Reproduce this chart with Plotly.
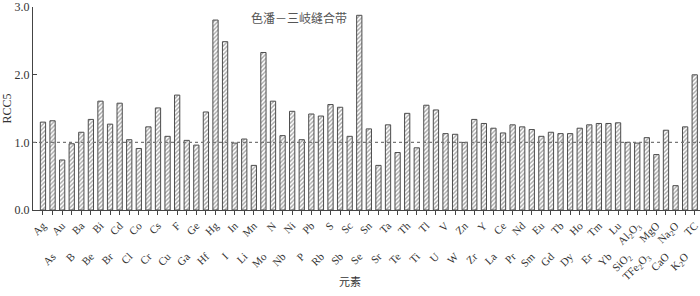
import plotly.graph_objects as go

elements = ["Ag", "As", "Au", "B", "Ba", "Be", "Bi", "Br", "Cd", "Cl", "Co", "Cr", "Cs", "Cu",
            "F", "Ga", "Ge", "Hf", "Hg", "I", "In", "Li", "Mn", "Mo", "N", "Nb", "Ni", "P",
            "Pb", "Rb", "S", "Sb", "Sc", "Se", "Sn", "Sr", "Ta", "Te", "Th", "Ti", "Tl", "U",
            "V", "W", "Zn", "Zr", "Y", "La", "Ce", "Pr", "Nd", "Sm", "Eu", "Gd", "Tb", "Dy",
            "Ho", "Er", "Tm", "Yb", "Lu", "SiO<sub>2</sub>", "Al<sub>2</sub>O<sub>3</sub>",
            "TFe<sub>2</sub>O<sub>3</sub>", "MgO", "CaO", "Na<sub>2</sub>O", "K<sub>2</sub>O", "TC"]

rcc5 = [1.30, 1.32, 0.74, 0.98, 1.15, 1.34, 1.61, 1.27, 1.58, 1.04, 0.91, 1.23, 1.51, 1.09,
        1.70, 1.03, 0.96, 1.45, 2.81, 2.49, 0.99, 1.05, 0.66, 2.33, 1.61, 1.10, 1.46, 1.04,
        1.42, 1.39, 1.56, 1.52, 1.09, 2.88, 1.20, 0.66, 1.26, 0.85, 1.43, 0.92, 1.55, 1.48,
        1.13, 1.12, 1.00, 1.34, 1.28, 1.21, 1.14, 1.26, 1.23, 1.19, 1.09, 1.15, 1.13, 1.13,
        1.21, 1.26, 1.28, 1.28, 1.29, 1.00, 0.99, 1.07, 0.82, 1.18, 0.36, 1.23, 2.00]

y_ticks = [0.0, 1.0, 2.0, 3.0]
y_tick_labels = ["0.0", "1.0", "2.0", "3.0"]
reference_level = 1.0

idx = list(range(len(elements)))
bot_vals = [i for i in idx if i % 2 == 1]

axis_color = "#444444"
serif = "Liberation Serif"

fig = go.Figure()
fig.add_trace(go.Bar(
    x=idx, y=rcc5, width=0.55,
    marker=dict(color="white",
                line=dict(color="#4d4d4d", width=1),
                pattern=dict(shape="/", size=3, solidity=0.45,
                             fgcolor="#4d4d4d", bgcolor="white")),
    showlegend=False,
))
# invisible helper trace for the second label row
fig.add_trace(go.Scatter(x=idx, y=rcc5, xaxis="x2", mode="markers",
                         marker=dict(opacity=0), showlegend=False, hoverinfo="skip"))

fig.add_shape(type="line", xref="paper", x0=0, x1=1, yref="y",
              y0=reference_level, y1=reference_level,
              line=dict(color="#777777", width=1.2, dash="dot"))

xrange = [-1.04, 68.55]
plot_h = 296 - 7 - 86
fig.update_layout(
    width=700, height=296,
    margin=dict(l=33, r=0, t=7, b=86, autoexpand=False),
    plot_bgcolor="white", paper_bgcolor="white",
    xaxis=dict(range=xrange, tickmode="array", tickvals=idx,
               ticktext=[elements[i] if i % 2 == 0 else "" for i in idx],
               tickangle=-45, ticks="outside", ticklen=4, tickcolor=axis_color,
               showline=True, linecolor=axis_color, linewidth=1,
               showgrid=False, zeroline=False, automargin=False,
               ticklabeloverflow="allow",
               tickfont=dict(family=serif, size=11, color="#333333")),
    xaxis2=dict(range=xrange, overlaying="x", side="bottom", matches="x",
                tickmode="array", tickvals=bot_vals,
                ticktext=[elements[i] for i in bot_vals],
                tickangle=-45, ticks="", ticklabelstandoff=37,
                showline=False, showgrid=False, zeroline=False, automargin=False,
                ticklabeloverflow="allow",
                tickfont=dict(family=serif, size=11, color="#333333")),
    yaxis=dict(range=[0, 3.003], tickmode="array", tickvals=y_ticks, ticktext=y_tick_labels,
               ticks="inside", ticklen=4, tickcolor=axis_color,
               showline=True, linecolor=axis_color, linewidth=1,
               showgrid=False, zeroline=False, automargin=False,
               ticklabeloverflow="allow",
               tickfont=dict(family=serif, size=12, color="#333333"),
               title=dict(text="RCC5", font=dict(family=serif, size=12, color="#333333"),
                          standoff=4)),
    annotations=[
        dict(text="色潘－三岐缝合带", xref="paper", yref="paper",
             x=(299 - 33) / 667, y=(296 - 86 - 17) / plot_h, xanchor="center", yanchor="middle",
             showarrow=False, font=dict(family="Noto Sans CJK SC", size=12, color="#555555")),
        dict(text="元素", xref="paper", yref="paper",
             x=(350 - 33) / 667, y=-(281 - 210) / plot_h, xanchor="center", yanchor="middle",
             showarrow=False, font=dict(family="Noto Sans CJK SC", size=11, color="#333333")),
    ],
)

fig.write_html("out.html", config={"displayModeBar": False},
               post_script="document.body.style.margin='0';document.body.style.padding='0';")
